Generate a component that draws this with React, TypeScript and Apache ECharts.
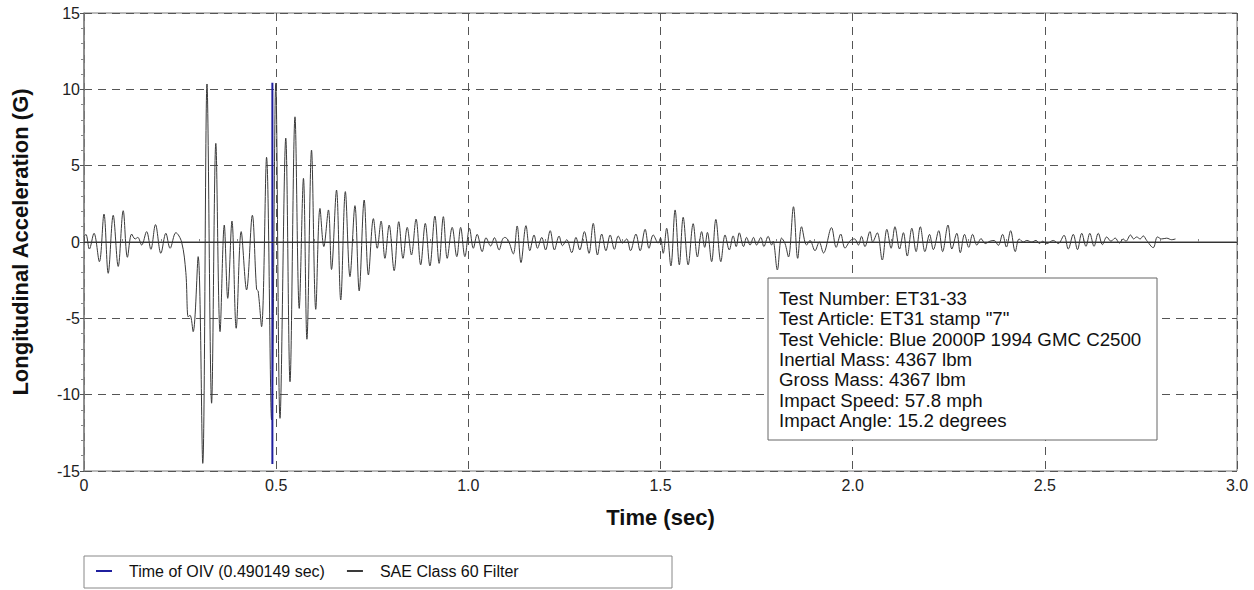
import React, { useEffect, useRef } from "react";
import * as echarts from "echarts";

// Time (sec) and longitudinal acceleration (G)
const timeSec: number[] = [
  0.000, 0.005, 0.014, 0.026, 0.040, 0.052, 0.063, 0.076, 0.089, 0.102,
  0.113, 0.124, 0.133, 0.140, 0.150, 0.163, 0.174, 0.186, 0.200, 0.213,
  0.224, 0.239, 0.254, 0.265, 0.271, 0.276, 0.284, 0.297, 0.309, 0.320,
  0.332, 0.343, 0.354, 0.365, 0.374, 0.385, 0.396, 0.409, 0.423, 0.438,
  0.449, 0.453, 0.462, 0.475, 0.488, 0.499, 0.510, 0.525, 0.536, 0.549,
  0.560, 0.571, 0.580, 0.592, 0.603, 0.614, 0.624, 0.636, 0.644, 0.657,
  0.668, 0.680, 0.692, 0.705, 0.716, 0.729, 0.740, 0.753, 0.763, 0.773,
  0.783, 0.794, 0.807, 0.819, 0.830, 0.841, 0.852, 0.864, 0.876, 0.888,
  0.900, 0.913, 0.924, 0.935, 0.945, 0.958, 0.970, 0.980, 0.991, 1.003,
  1.013, 1.023, 1.036, 1.046, 1.058, 1.068, 1.080, 1.089, 1.095, 1.104,
  1.117, 1.127, 1.137, 1.150, 1.160, 1.171, 1.180, 1.191, 1.201, 1.213,
  1.224, 1.236, 1.245, 1.256, 1.269, 1.280, 1.290, 1.302, 1.314, 1.325,
  1.336, 1.347, 1.358, 1.369, 1.380, 1.390, 1.401, 1.412, 1.422, 1.436,
  1.447, 1.460, 1.470, 1.481, 1.494, 1.500, 1.507, 1.516, 1.527, 1.538,
  1.549, 1.559, 1.572, 1.585, 1.596, 1.607, 1.615, 1.622, 1.633, 1.644,
  1.657, 1.668, 1.679, 1.689, 1.697, 1.705, 1.716, 1.724, 1.733, 1.742,
  1.750, 1.761, 1.769, 1.780, 1.789, 1.793, 1.804, 1.815, 1.824, 1.833,
  1.846, 1.857, 1.867, 1.880, 1.889, 1.902, 1.913, 1.924, 1.945, 1.957,
  1.969, 1.980, 1.994, 2.005, 2.015, 2.023, 2.032, 2.045, 2.052, 2.064,
  2.077, 2.089, 2.100, 2.110, 2.122, 2.132, 2.142, 2.154, 2.165, 2.176,
  2.188, 2.200, 2.210, 2.224, 2.234, 2.248, 2.258, 2.271, 2.280, 2.291,
  2.302, 2.312, 2.323, 2.334, 2.345, 2.357, 2.368, 2.379, 2.390, 2.400,
  2.411, 2.423, 2.433, 2.444, 2.453, 2.466, 2.477, 2.486, 2.494, 2.505,
  2.522, 2.535, 2.550, 2.561, 2.574, 2.585, 2.596, 2.607, 2.617, 2.628,
  2.639, 2.650, 2.661, 2.672, 2.683, 2.694, 2.704, 2.711, 2.723, 2.731,
  2.739, 2.748, 2.756, 2.765, 2.782, 2.793, 2.804, 2.817, 2.830, 2.840,
];

const accelG: number[] = [
  0.35, 0.5, -0.46, 0.57, -1.29, 1.83, -2.05, 1.75, -1.6, 2.05,
  -1.0, 0.52, 0.2, 0.3, -0.2, 0.68, -0.48, 1.14, -0.74, 0.57,
  -0.41, 0.61, 0.0, -2.0, -4.9, -4.8, -5.87, -0.96, -14.5, 10.35,
  -10.56, 6.46, -5.87, 1.11, -3.69, 1.37, -5.65, 0.68, -3.14, 1.75,
  -3.1, -3.2, -5.55, 5.55, -11.66, 10.4, -11.55, 6.8, -9.15, 8.2,
  -4.35, 4.17, -6.37, 6.02, -4.41, 2.2, -0.3, 2.1, -1.8, 3.4,
  -3.8, 3.3, -2.27, 2.38, -3.2, 2.75, -2.16, 1.53, -0.41, 1.37,
  -1.07, 1.11, -1.88, 1.33, -1.07, 0.96, -0.85, 1.5, -1.5, 1.22,
  -1.57, 1.7, -1.4, 1.66, -1.07, 0.96, -0.96, 0.96, -0.96, 0.9,
  -0.41, 0.5, -0.63, 0.28, -0.26, 0.28, -0.52, 0.18, 0.3, 0.1,
  -0.78, 1.05, -1.35, 1.07, -0.57, 0.46, -0.41, 0.3, -0.52, 0.74,
  -0.52, 0.39, -0.24, 0.15, -0.7, 0.3, -0.52, 0.68, -0.74, 1.22,
  -0.85, 0.52, -0.57, 0.46, -0.48, 0.39, -0.07, 0.2, -0.57, 0.52,
  -0.57, 0.83, -0.41, 0.46, -0.07, 0.26, -0.74, 0.9, -1.57, 2.1,
  -1.5, 1.62, -1.5, 1.2, -0.98, 0.68, -0.35, 0.63, -1.29, 1.48,
  -1.29, 0.46, -0.52, 0.4, -0.3, 0.6, -0.3, 0.3, -0.2, 0.3,
  -0.2, 0.3, -0.3, 0.37, -0.2, 0.05, -1.83, 0.26, -0.1, -0.98,
  2.31, -1.07, 1.0, -0.2, 0.1, -0.57, 0.0, -0.72, 0.94, -0.35,
  0.52, -0.4, 0.1, 0.2, -0.2, 0.37, -0.3, 0.68, 0.0, 0.6,
  -1.18, 0.83, -0.41, 1.0, -0.46, 0.61, -0.92, 0.9, -0.63, 1.0,
  -0.63, 0.5, -0.5, 0.74, -0.63, 1.11, -0.46, 0.57, -0.7, 0.5,
  -0.35, 0.5, -0.2, 0.22, -0.1, 0.05, 0.1, -0.22, 0.5, -0.33,
  0.74, -0.63, 0.2, 0.0, 0.1, 0.0, 0.1, -0.1, 0.05, -0.1,
  0.1, -0.1, 0.44, -0.46, 0.5, -0.5, 0.57, -0.28, 0.57, -0.28,
  0.57, -0.17, 0.33, 0.05, 0.26, -0.07, 0.2, 0.05, 0.46, 0.2,
  0.33, 0.2, 0.4, 0.1, -0.37, 0.33, 0.2, 0.25, 0.15, 0.2,
];

const oivTime = 0.490149;
const oivRange: number[] = [10.43, -14.54];

const xTicks = { min: 0, max: 3, interval: 0.5 };
const yTicks = { min: -15, max: 15, interval: 5 };

const infoLines: string[] = [
  "Test Number: ET31-33",
  'Test Article: ET31 stamp "7"',
  "Test Vehicle: Blue 2000P 1994 GMC C2500",
  "Inertial Mass: 4367 lbm",
  "Gross Mass: 4367 lbm",
  "Impact Speed: 57.8 mph",
  "Impact Angle: 15.2 degrees",
];

const seriesNames = ["Time of OIV (0.490149 sec)", "SAE Class 60 Filter"];

const FONT = "'Liberation Sans', Arial, sans-serif";

export default function App() {
  const ref = useRef<HTMLDivElement>(null);

  useEffect(() => {
    if (!ref.current) return;
    const chart = echarts.init(ref.current, undefined, { renderer: "svg" });

    const traceData = timeSec.map((t, i) => [t, accelG[i]]);
    const oivData = oivRange.map((g) => [oivTime, g]);

    const option: any = {
      animation: false,
      backgroundColor: "#ffffff",
      textStyle: { fontFamily: FONT },
      grid: {
        left: 84,
        top: 13,
        width: 1153,
        height: 458,
        show: true,
        borderColor: "#777",
        borderWidth: 1,
        backgroundColor: "transparent",
      },
      legend: {
        left: 91,
        top: 558,
        icon: "rect",
        itemWidth: 16,
        itemHeight: 2,
        itemGap: 22,
        data: seriesNames,
        textStyle: {
          fontFamily: FONT,
          fontSize: 16,
          color: "#111",
          padding: [0, 0, 0, 12],
        },
      },
      xAxis: {
        type: "value",
        min: xTicks.min,
        max: xTicks.max,
        interval: xTicks.interval,
        name: "Time (sec)",
        nameLocation: "middle",
        nameGap: 35,
        nameTextStyle: {
          fontFamily: FONT,
          fontSize: 22,
          fontWeight: "bold",
          color: "#111",
        },
        axisLine: { show: true, lineStyle: { color: "#808080", width: 1.5 } },
        axisTick: { show: true, inside: true, length: 5, lineStyle: { color: "#555" } },
        minorTick: { show: true, splitNumber: 5, length: 3, lineStyle: { color: "#888" } },
        axisLabel: {
          fontFamily: FONT,
          fontSize: 16,
          color: "#222",
          margin: 6,
          formatter: (v: number) => (v === 0 ? "0" : v.toFixed(1)),
        },
        splitLine: {
          show: true,
          lineStyle: { color: "#555", type: [8, 6], width: 1 },
        },
      },
      yAxis: {
        type: "value",
        min: yTicks.min,
        max: yTicks.max,
        interval: yTicks.interval,
        name: "Longitudinal Acceleration (G)",
        nameLocation: "middle",
        nameGap: 53,
        nameTextStyle: {
          fontFamily: FONT,
          fontSize: 22,
          fontWeight: "bold",
          color: "#111",
        },
        axisLine: { show: true, lineStyle: { color: "#808080", width: 1.5 } },
        axisTick: { show: true, inside: false, length: 4, lineStyle: { color: "#555" } },
        minorTick: { show: true, splitNumber: 5, length: 3, lineStyle: { color: "#888" } },
        axisLabel: {
          fontFamily: FONT,
          fontSize: 16,
          color: "#222",
          margin: 4,
        },
        splitLine: {
          show: true,
          lineStyle: { color: "#555", type: [8, 6], width: 1 },
        },
      },
      series: [
        {
          name: seriesNames[0],
          type: "line",
          data: oivData,
          symbol: "none",
          lineStyle: { color: "#1f1f9e", width: 2 },
          itemStyle: { color: "#1f1f9e" },
          z: 4,
        },
        {
          name: seriesNames[1],
          type: "line",
          data: traceData,
          symbol: "none",
          smooth: 0.35,
          lineStyle: { color: "#3a3a3a", width: 1 },
          itemStyle: { color: "#3a3a3a" },
          z: 3,
          markLine: {
            silent: true,
            symbol: "none",
            label: { show: false },
            lineStyle: { color: "#333", type: "solid", width: 1 },
            data: [{ yAxis: 0 }],
          },
        },
      ],
      graphic: [
        {
          type: "rect",
          shape: { x: 84, y: 556, width: 588, height: 32 },
          style: { fill: "none", stroke: "#888", lineWidth: 1 },
          z: 0,
        },
        {
          type: "rect",
          shape: { x: 768, y: 278, width: 389, height: 162 },
          style: { fill: "#fff", stroke: "#666", lineWidth: 1 },
          z: 100,
        },
        {
          type: "text",
          x: 779,
          y: 288,
          z: 101,
          style: {
            text: infoLines.join("\n"),
            fontFamily: FONT,
            fontSize: 18.7,
            lineHeight: 20.4,
            fill: "#111",
            verticalAlign: "top",
          },
        },
      ],
    };

    chart.setOption(option);
    return () => chart.dispose();
  }, []);

  return (
    <div
      ref={ref}
      style={{ position: "absolute", left: 0, top: 0, width: 1254, height: 590 }}
    />
  );
}
